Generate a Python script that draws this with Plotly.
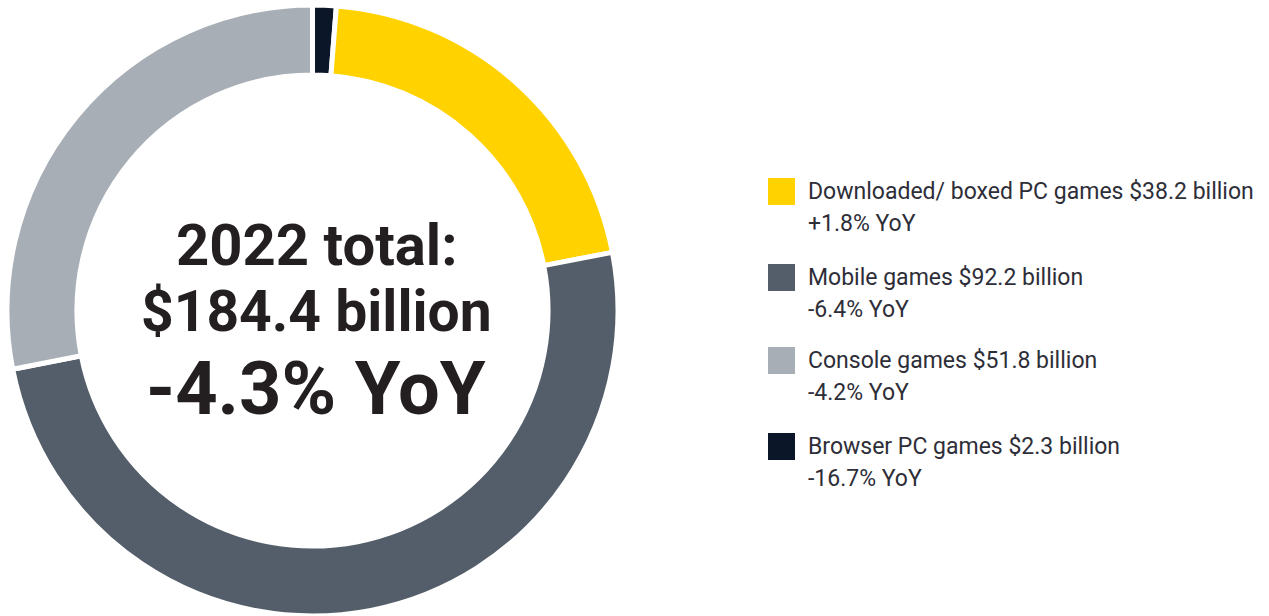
import plotly.graph_objects as go

# Data
segments = ["Browser PC games", "Downloaded/ boxed PC games", "Mobile games", "Console games"]
values = [2.3, 38.2, 92.2, 51.8]
yoy = ["-16.7% YoY", "+1.8% YoY", "-6.4% YoY", "-4.2% YoY"]
colors = ["#0C1629", "#FFD200", "#545E6A", "#A7AEB5"]
legend_order = ["Downloaded/ boxed PC games", "Mobile games", "Console games", "Browser PC games"]
center_lines = ["2022 total:", "$184.4 billion", "-4.3% YoY"]

W, H = 1269, 616
TEXT = "#2E2E38"

fig = go.Figure()
fig.add_trace(go.Pie(
    labels=segments,
    values=values,
    sort=False,
    direction="clockwise",
    rotation=0,
    hole=0.771,
    marker=dict(colors=colors, line=dict(color="white", width=5)),
    textinfo="none",
    hoverinfo="label+value",
    showlegend=False,
    domain=dict(x=[7 / W, 618 / W], y=[0, (H - 5) / H]),
))

annotations = []
# center text
center_y = [245, 311, 388]
center_sizes = [58, 57, 74]
for txt, yy, sz in zip(center_lines, center_y, center_sizes):
    annotations.append(dict(
        text=f"<b>{txt}</b>", x=316 / W, y=1 - yy / H, xref="paper", yref="paper",
        xanchor="center", yanchor="middle", showarrow=False,
        font=dict(family="Roboto", size=sz, color="#231F20"),
    ))

shapes = []
row_tops = [178, 264, 347, 433]
for name, top in zip(legend_order, row_tops):
    i = segments.index(name)
    shapes.append(dict(
        type="rect", xref="paper", yref="paper",
        x0=768 / W, x1=795 / W, y0=1 - (top + 27) / H, y1=1 - top / H,
        fillcolor=colors[i], line=dict(width=0),
    ))
    annotations.append(dict(
        text=f"{name} ${values[i]} billion", x=806 / W, y=1 - (top + 13) / H,
        xref="paper", yref="paper", xanchor="left", yanchor="middle", showarrow=False,
        font=dict(family="Roboto", size=23, color=TEXT),
    ))
    annotations.append(dict(
        text=yoy[i], x=806 / W, y=1 - (top + 45) / H,
        xref="paper", yref="paper", xanchor="left", yanchor="middle", showarrow=False,
        font=dict(family="Roboto", size=23, color=TEXT),
    ))

fig.update_layout(
    width=W, height=H,
    margin=dict(l=0, r=0, t=0, b=0),
    paper_bgcolor="white", plot_bgcolor="white",
    annotations=annotations, shapes=shapes,
)

fig.write_html("out.html", config={"displayModeBar": False},
               post_script="document.body.style.margin='0';document.body.style.padding='0';")
